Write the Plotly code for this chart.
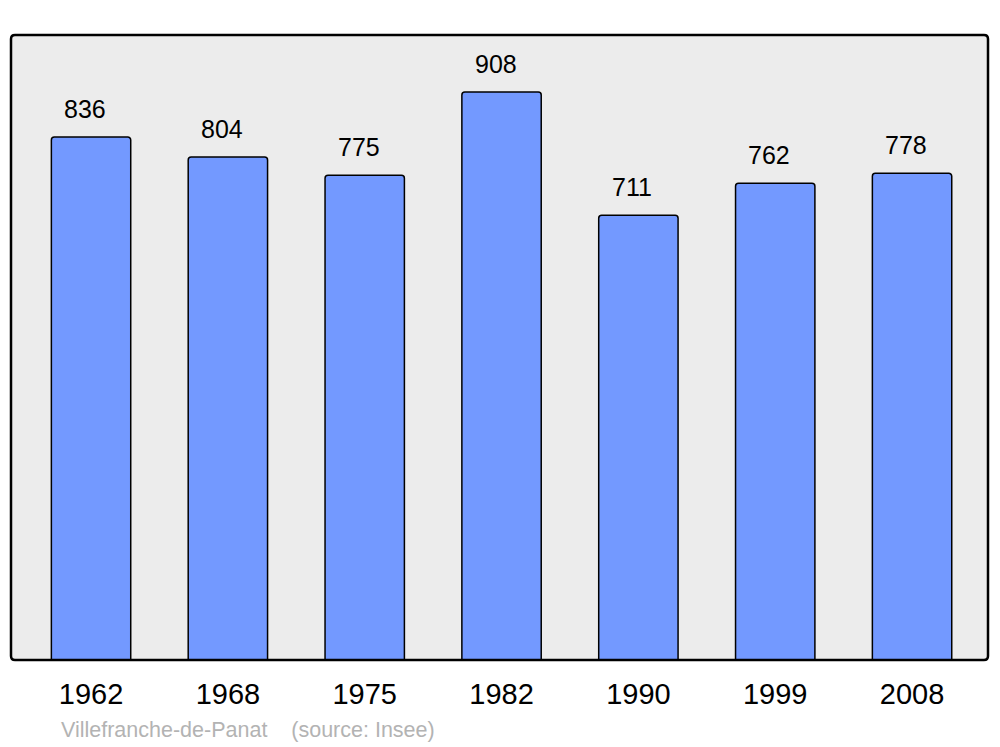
import plotly.graph_objects as go

years = ["1962", "1968", "1975", "1982", "1990", "1999", "2008"]
population = [836, 804, 775, 908, 711, 762, 778]
commune = "Villefranche-de-Panat"
source = "(source: Insee)"

fig = go.Figure()
fig.add_trace(go.Bar(x=list(range(len(years))),
                     y=population,
                     width=0.58,
                     marker=dict(color="#7399ff",
                                 line=dict(color="#000000", width=1.5),
                                 cornerradius=3),
                     hovertext=years,
                     hoverinfo="text+y"))

for i, val in enumerate(population):
    fig.add_annotation(x=i, y=val, text=str(val), showarrow=False,
                       yanchor="bottom", yshift=12, xshift=-6,
                       font=dict(size=25, color="#000000"))

fig.add_annotation(xref="paper", yref="paper", x=0.051, y=-0.112,
                   xanchor="left", yanchor="middle", showarrow=False, xshift=-2,
                   text=commune + "&nbsp;&nbsp;&nbsp;&nbsp;" + source,
                   font=dict(size=21.5, color="#b3b3b3"))

# rounded frame around the plot area (pixel units, anchored bottom-left)
w, h, r = 977, 625, 4
frame = (f"M 0,{r} L 0,{h - r} Q 0,{h} {r},{h} L {w - r},{h} Q {w},{h} {w},{h - r} "
         f"L {w},{r} Q {w},0 {w - r},0 L {r},0 Q 0,0 0,{r} Z")
fig.add_shape(type="path", xref="paper", yref="paper",
              xsizemode="pixel", ysizemode="pixel", xanchor=0, yanchor=0,
              path=frame, line=dict(color="#000000", width=2.5), layer="above")

fig.update_xaxes(range=[-0.585, 6.555], showgrid=False, zeroline=False,
                 showline=False, ticks="",
                 tickmode="array", tickvals=list(range(len(years))), ticktext=years,
                 ticklabelstandoff=14,
                 tickfont=dict(size=29, color="#000000"))
fig.update_yaxes(range=[0, 999], showgrid=False, zeroline=False,
                 showticklabels=False, showline=False)

fig.update_layout(width=1000, height=747,
                  margin=dict(l=11, r=12, t=35, b=87),
                  plot_bgcolor="#ececec", paper_bgcolor="#ffffff",
                  font=dict(family="Liberation Sans, Arial, sans-serif"),
                  showlegend=False)

fig.write_html("out.html", config={"displayModeBar": False},
               post_script="document.body.style.margin='0';")
